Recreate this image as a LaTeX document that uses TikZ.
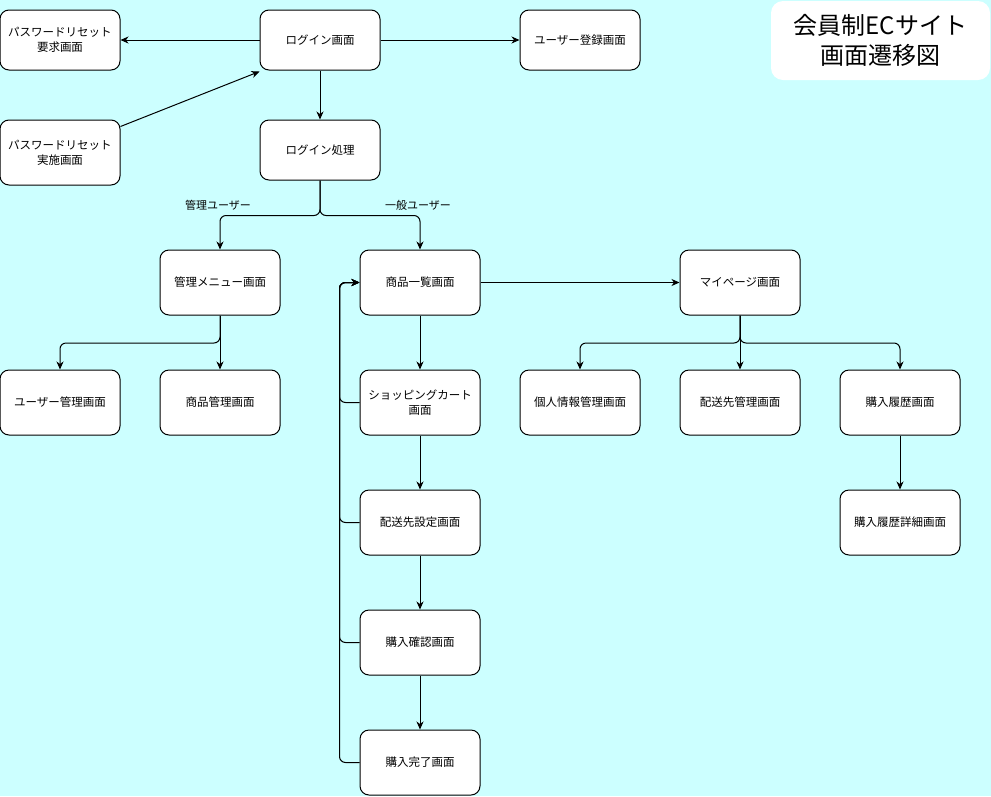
\documentclass[tikz,border=0pt]{standalone}
\usepackage{fontspec}
\setmainfont{Noto Sans CJK JP}
\usetikzlibrary{arrows.meta,calc}
\definecolor{bgc}{HTML}{CCFFFF}
\begin{document}
\begin{tikzpicture}[x=1pt,y=-1pt,
 box/.style={draw=black, line width=1pt, fill=white, rounded corners=9pt, minimum width=120pt, minimum height=65pt, align=center, font=\fontsize{11.5}{15}\selectfont, inner sep=0pt},
 arr/.style={draw=black, line width=1pt, -{Stealth[length=8pt,width=7pt,inset=2.5pt]}},
 lbl/.style={font=\fontsize{11}{13}\selectfont, inner sep=1pt},
 ttl/.style={fill=white, rounded corners=12pt, minimum width=219pt, minimum height=79pt, align=center, font=\fontsize{24}{30}\selectfont, inner sep=0pt}
]
\fill[bgc] (0,0) rectangle (991,796);
\useasboundingbox (0,0) rectangle (991,796);

\node[box, minimum height=60pt] (pwreq) at (60,40) {パスワードリセット\\要求画面};
\node[box, minimum height=60pt] (login) at (320,40) {ログイン画面};
\node[box, minimum height=60pt] (reg) at (580,40) {ユーザー登録画面};
\node[box] (pwimpl) at (60,152.5) {パスワードリセット\\実施画面};
\node[box, minimum height=60pt] (proc) at (320,150) {ログイン処理};
\node[box] (admin) at (220,282.5) {管理メニュー画面};
\node[box] (list) at (420,282.5) {商品一覧画面};
\node[box] (mypage) at (740,282.5) {マイページ画面};
\node[box] (usermg) at (60,402.5) {ユーザー管理画面};
\node[box] (prodmg) at (220,402.5) {商品管理画面};
\node[box] (cart) at (420,402.5) {ショッピングカート\\画面};
\node[box] (personal) at (580,402.5) {個人情報管理画面};
\node[box] (addrmg) at (740,402.5) {配送先管理画面};
\node[box] (hist) at (900,402.5) {購入履歴画面};
\node[box] (ship) at (420,522.5) {配送先設定画面};
\node[box] (histdet) at (900,522.5) {購入履歴詳細画面};
\node[box] (confirm) at (420,642.5) {購入確認画面};
\node[box] (done) at (420,762.5) {購入完了画面};

\node[ttl] (title) at (880.5,40.5) {会員制ECサイト\\画面遷移図};

\draw[arr] (login.west) -- (pwreq.east);
\draw[arr] (login.east) -- (reg.west);
\draw[arr] (login.south) -- (proc.north);
\draw[arr] ($(pwimpl.north east)+(0,7)$) -- ($(login.south west)+(0,1)$);

\draw[arr, rounded corners=6pt] (proc.south) -- ++(0,35) -| (admin.north);
\draw[arr, rounded corners=6pt] (proc.south) -- ++(0,35) -| (list.north);
\node[lbl] (lbladmin) at (218,205) {管理ユーザー};
\node[lbl] (lblgen) at (418,205) {一般ユーザー};

\draw[arr, rounded corners=6pt] (admin.south) -- ++(0,27.5) -| (usermg.north);
\draw[arr] (admin.south) -- (prodmg.north);

\draw[arr] (list.south) -- (cart.north);
\draw[arr] (cart.south) -- (ship.north);
\draw[arr] (ship.south) -- (confirm.north);
\draw[arr] (confirm.south) -- (done.north);
\draw[arr] (list.east) -- (mypage.west);

\draw[arr, rounded corners=6pt] (mypage.south) -- ++(0,27.5) -| (personal.north);
\draw[arr, rounded corners=6pt] (mypage.south) -- ++(0,27.5) -| (hist.north);
\draw[arr] (mypage.south) -- (addrmg.north);
\draw[arr] (hist.south) -- (histdet.north);

\coordinate (ret) at ($(list.west)+(-20,0)$);
\foreach \n in {cart,ship,confirm,done}
  \draw[arr, rounded corners=6pt] (\n.west) -| (ret) -- (list.west);
\end{tikzpicture}
\end{document}
